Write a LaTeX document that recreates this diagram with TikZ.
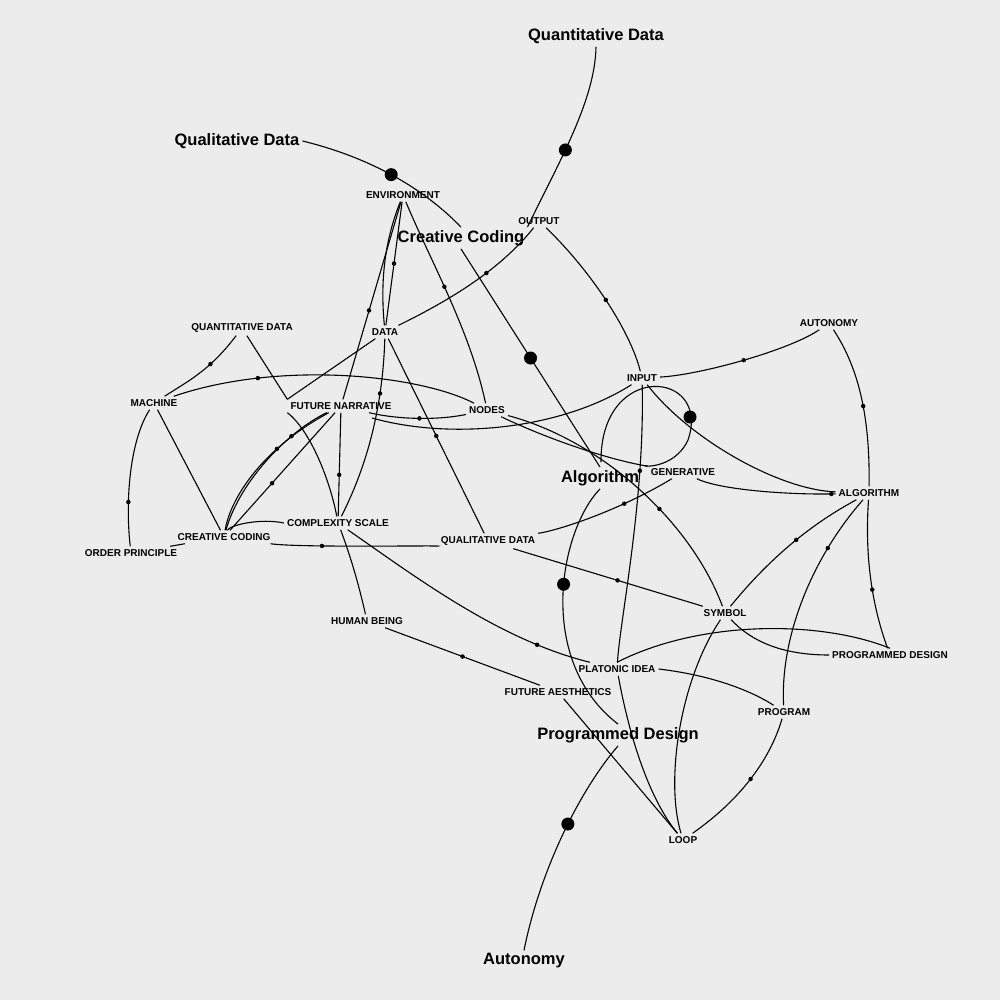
\documentclass[tikz,border=0pt]{standalone}
\usepackage{fontspec}
\setmainfont{Liberation Sans}
\begin{document}
\begin{tikzpicture}[x=1pt,y=-1pt,
  lab/.style={font=\bfseries\fontsize{10}{11}\selectfont,inner sep=3pt},
  big/.style={font=\bfseries\fontsize{16.5}{18}\selectfont,inner sep=3pt},
  e/.style={line width=1.1pt},
  sd/.style={circle,fill=black,inner sep=0pt,minimum size=4.5pt},
  bd/.style={circle,fill=black,inner sep=0pt,minimum size=13pt}]
\fill[fill={rgb,255:red,236;green,236;blue,236}] (0,0) rectangle (1000,1000);
\useasboundingbox (0,0) rectangle (1000,1000);
% big nodes
\node[big] (QT) at (596,36) {Quantitative Data};
\node[big] (QL) at (237,141) {Qualitative Data};
\node[big] (CCb) at (461,238) {Creative Coding};
\node[big] (ALb) at (600,478) {Algorithm};
\node[big] (PDb) at (618,735) {Programmed Design};
\node[big] (AUb) at (524,961) {Autonomy};
% small nodes
\node[lab] (ENV) at (403,195) {ENVIRONMENT};
\node[lab] (OUT) at (539,221) {OUTPUT};
\node[lab] (QDs) at (242,328) {QUANTITATIVE DATA};
\node[lab] (DATA) at (385,332) {DATA};
\node[lab] (AUT) at (829,323) {AUTONOMY};
\node[lab] (MAC) at (154,403) {MACHINE};
\node[lab] (FN) at (341,406) {FUTURE NARRATIVE};
\node[lab] (NOD) at (487,410) {NODES};
\node[lab] (INP) at (642,378) {INPUT};
\node[lab] (GEN) at (683,472) {GENERATIVE};
\node[lab] (ALG) at (869,493) {ALGORITHM};
\node[lab] (CC) at (224,537) {CREATIVE CODING};
\node[lab] (CS) at (338,523) {COMPLEXITY SCALE};
\node[lab] (OP) at (131,553) {ORDER PRINCIPLE};
\node[lab] (QLs) at (488,541) {QUALITATIVE DATA};
\node[lab] (SYM) at (725,613) {SYMBOL};
\node[lab] (HB) at (367,621) {HUMAN BEING};
\node[lab] (PDs) at (890,655) {PROGRAMMED DESIGN};
\node[lab] (PI) at (617,669) {PLATONIC IDEA};
\node[lab] (FA) at (558,692) {FUTURE AESTHETICS};
\node[lab] (PRG) at (784,712) {PROGRAM};
\node[lab] (LOOP) at (683,840) {LOOP};
% big edges
\draw[e] (QL.east) .. controls (380,160) and (430,195) .. node[pos=.45,bd]{} (CCb.north) ;
\draw[e] (QT.south) .. controls (595,100) and (560,160) .. node[pos=.6,bd]{} (CCb.north east);
\draw[e] (CCb.south) -- node[pos=.5,bd]{} (ALb.north);
\draw[e] (ALb.south) .. controls (560,530) and (535,660) .. node[pos=.45,bd]{} (PDb.north);
\draw[e] (PDb.south) .. controls (580,790) and (540,870) .. node[pos=.45,bd]{} (AUb.north);
\draw[e] (601,462) .. controls (600,360) and (712,370) .. (688,440) .. controls (678,462) and (655,467) .. (645,466);
\node[bd] at (690,417) {};
% small edges
\draw[e] (ENV) .. controls (385,240) and (380,280) .. (DATA);
\draw[e] (ENV) -- node[sd]{} (DATA);
\draw[e] (ENV) -- node[pos=.55,sd]{} (FN);
\draw[e] (ENV) .. controls (430,260) and (470,330) .. node[pos=.45,sd]{} (NOD);
\draw[e] (DATA) .. controls (450,300) and (500,270) .. node[pos=.6,sd]{} (OUT);
\draw[e] (OUT) .. controls (590,270) and (630,330) .. node[pos=.5,sd]{} (INP);
\draw[e] (DATA) -- (FN.north west);
\draw[e] (DATA) .. controls (383,400) and (370,460) .. node[pos=.3,sd]{} (CS);
\draw[e] (DATA) -- node[pos=.5,sd]{} (QLs);
\draw[e] (QDs) .. controls (210,370) and (190,380) .. node[pos=.35,sd]{} (MAC);
\draw[e] (QDs) -- (FN.north west);
\draw[e] (MAC) .. controls (280,360) and (420,375) .. node[pos=.25,sd]{} (NOD);
\draw[e] (MAC) .. controls (130,440) and (125,500) .. node[pos=.7,sd]{} (OP);
\draw[e] (MAC) -- (CC);
\draw[e] (FN) .. controls (260,450) and (230,500) .. node[pos=.3,sd]{} (CC);
\draw[e] (FN) .. controls (290,430) and (240,480) .. node[pos=.3,sd]{} (CC);
\draw[e] (FN) -- node[pos=.6,sd]{} (CC);
\draw[e] (FN) .. controls (400,420) and (440,420) .. node[pos=.5,sd]{} (NOD);
\draw[e] (372,418) .. controls (450,440) and (560,430) .. (INP);
\draw[e] (FN) -- node[pos=.6,sd]{} (CS);
\draw[e] (FN.south west) .. controls (310,430) and (330,480) .. (CS);
\draw[e] (CS.west) .. controls (260,518) and (230,525) .. (CC);
\draw[e] (OP) -- (CC);
\draw[e] (CC) .. controls (300,548) and (450,545) .. node[pos=.3,sd]{} (QLs);
\draw[e] (CS) .. controls (352,560) and (360,590) .. (HB);
\draw[e] (CS) .. controls (420,580) and (500,640) .. node[pos=.8,sd]{} (PI);
\draw[e] (HB) -- node[pos=.5,sd]{} (FA);
\draw[e] (QLs) .. controls (560,530) and (620,510) .. node[pos=.7,sd]{} (GEN);
\draw[e] (QLs) -- node[pos=.55,sd]{} (SYM);
\draw[e] (NOD) .. controls (550,440) and (610,460) .. (GEN);
\draw[e] (NOD) .. controls (600,440) and (690,520) .. node[pos=.6,sd]{} (SYM);
\draw[e] (INP) .. controls (700,375) and (790,350) .. node[pos=.5,sd]{} (AUT);
\draw[e] (INP) .. controls (690,440) and (780,490) .. (ALG);
\draw[e] (INP) .. controls (645,500) and (620,620) .. node[pos=.25,sd]{} (PI);
\draw[e] (GEN) .. controls (720,490) and (790,495) .. node[pos=.97,sd]{} (ALG);
\draw[e] (AUT) .. controls (860,370) and (870,420) .. node[pos=.55,sd]{} (ALG);
\draw[e] (ALG) .. controls (800,530) and (760,570) .. node[pos=.4,sd]{} (SYM);
\draw[e] (ALG) .. controls (810,560) and (780,640) .. node[pos=.25,sd]{} (PRG);
\draw[e] (ALG) .. controls (865,550) and (870,600) .. node[pos=.6,sd]{} (PDs);
\draw[e] (SYM) .. controls (680,680) and (665,780) .. (LOOP);
\draw[e] (SYM) .. controls (750,640) and (780,655) .. (PDs.west);
\draw[e] (PI.north) .. controls (700,620) and (820,620) .. (PDs.north);
\draw[e] (PI.east) .. controls (710,675) and (750,690) .. (PRG);
\draw[e] (PRG) .. controls (770,760) and (740,800) .. node[pos=.5,sd]{} (LOOP);
\draw[e] (FA) -- (LOOP);
\draw[e] (PI) .. controls (630,740) and (650,800) .. (LOOP);
\end{tikzpicture}
\end{document}
